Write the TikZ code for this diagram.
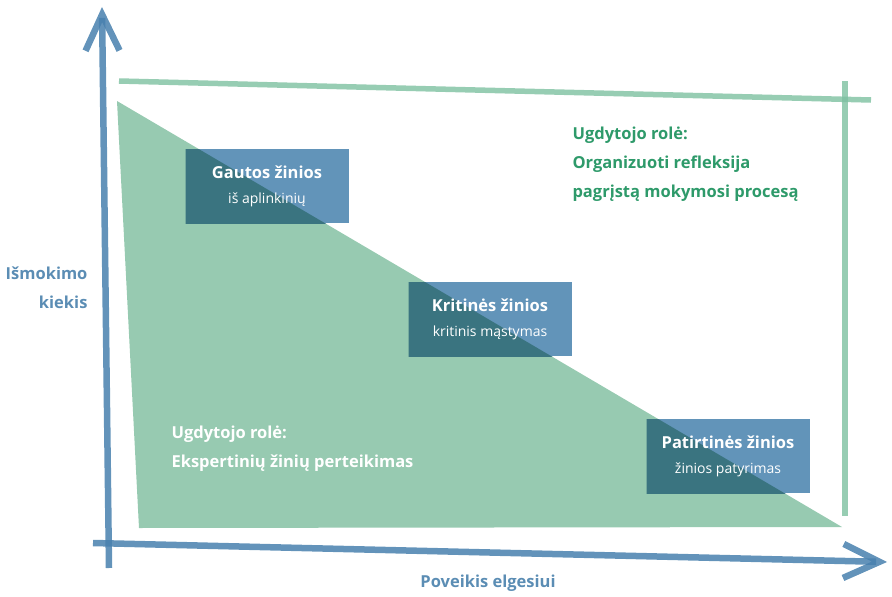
\documentclass[tikz,border=0pt]{standalone}
\usepackage{fontspec}
\setmainfont{Open Sans}
\usetikzlibrary{arrows.meta}
\definecolor{axisblue}{RGB}{72,128,174}
\definecolor{framegreen}{RGB}{125,192,160}
\definecolor{trigreen}{RGB}{151,202,177}
\definecolor{boxblue}{RGB}{98,148,185}
\definecolor{boxteal}{RGB}{58,116,128}
\definecolor{rolegreen}{RGB}{46,154,106}
\definecolor{labelblue}{RGB}{91,141,180}

\begin{document}
\begin{tikzpicture}[x=1pt,y=-1pt,
  axis/.style={line width=6.5pt,draw=axisblue,draw opacity=.85,-{Straight Barb[length=36pt,width=34pt]}},
  frame/.style={line width=5.5pt,draw=framegreen,draw opacity=.8},
  box/.style={fill=boxblue,minimum width=163pt,minimum height=74pt,inner sep=0pt,text=white,align=center,
    font=\fontsize{16.5}{25}\selectfont,path picture={\fill[boxteal] (t1) -- (t2) -- (t3) -- cycle;}},
  role/.style={anchor=west,align=left,font=\bfseries\fontsize{16.5}{29}\selectfont},
  axislabel/.style={text=labelblue,font=\bfseries\fontsize{16.5}{29}\selectfont}]
  \useasboundingbox (0,0) rectangle (892,597);
  % triangle and frame
  \coordinate (t1) at (117,101); \coordinate (t2) at (139,528); \coordinate (t3) at (842,527);
  \draw[frame] (119,81) -- (871,100); \draw[frame] (845,81) -- (845,516);
  \fill[trigreen] (t1) -- (t2) -- (t3) -- cycle;
  % boxes
  \node[box] (gautos) at (267,186) {\bfseries Gautos žinios\\\mdseries\fontsize{14}{25}\selectfont iš aplinkinių};
  \node[box] (kritines) at (490,319) {\bfseries Kritinės žinios\\\mdseries\fontsize{14}{25}\selectfont kritinis mąstymas};
  \node[box] (patirtines) at (728,456) {\bfseries Patirtinės žinios\\\mdseries\fontsize{14}{25}\selectfont žinios patyrimas};
  % roles
  \node[role,text=rolegreen] (refleksija) at (569,164) {Ugdytojo rolė:\\Organizuoti refleksija\\pagrįstą mokymosi procesą};
  \node[role,text=white] (ekspertas) at (168,449) {Ugdytojo rolė:\\Ekspertinių žinių perteikimas};
  % axes
  \draw[axis] (109,568) -- (102,7);
  \draw[axis] (93,543) -- (887,562);
  \node[axislabel,anchor=east,align=right] (kiekis) at (91,288) {Išmokimo\\kiekis};
  \node[axislabel] (elgesys) at (488,583) {Poveikis elgesiui};
\end{tikzpicture}
\end{document}
